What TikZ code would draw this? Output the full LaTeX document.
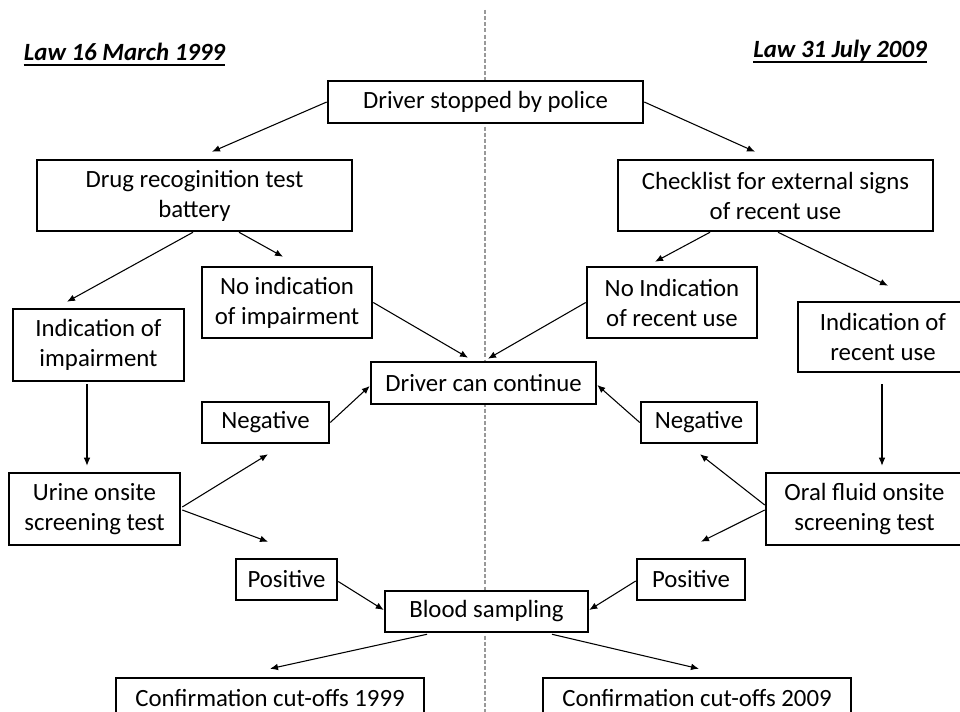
\documentclass[tikz,border=0pt]{standalone}
\usepackage{fontspec}
\setmainfont{Carlito}
\usetikzlibrary{arrows.meta,calc}
\newcommand{\pxu}{0.75pt}
\tikzset{
  box/.style={draw=black, line width=1.9pt, fill=white, inner sep=0pt, align=center,
    font=\fontsize{18.6pt}{22.5pt}\selectfont},
  arr/.style={draw=black, line width=0.8pt, -{Latex[length=6pt,width=5pt]}},
  lawtitle/.style={inner sep=0pt, anchor=base, font=\fontsize{18.6pt}{20pt}\selectfont\bfseries\itshape},
  uline/.style={draw=black, line width=1.2pt},
  divider/.style={draw=gray!80, line width=0.8pt, dash pattern=on 3pt off 1.6pt}
}
\begin{document}
\begin{tikzpicture}[x=0.75pt,y=-0.75pt]
\useasboundingbox (0,0) rectangle (960,712);
\clip (0,0) rectangle (960,712);
\fill[white] (0,0) rectangle (960,712);
% divider
\coordinate (dtop) at (485,10);
\coordinate (dbot) at (485,712);
\draw[divider] (dtop) -- (dbot);
% titles
\node[lawtitle] (t99) at (124.5,61) {Law 16 March 1999};
\node[lawtitle] (t09) at (840,58) {Law 31 July 2009};
\draw[uline] ($(t99.base west)+(0,4)$) -- ($(t99.base east)+(0,4)$);
\draw[uline] ($(t09.base west)+(0,4)$) -- ($(t09.base east)+(0,4)$);
% boxes
\node[box, minimum width=315*\pxu, minimum height=42*\pxu] (stop) at (485.5,102) {Driver stopped by police};
\node[box, minimum width=315*\pxu, minimum height=71*\pxu] (drug) at (194.5,195.5) {Drug recoginition test\\battery};
\node[box, minimum width=315*\pxu, minimum height=71*\pxu] (check) at (775.5,195.5) {Checklist for external signs\\of recent use};
\node[box, minimum width=170*\pxu, minimum height=71*\pxu] (noimp) at (287,302.5) {No indication\\of impairment};
\node[box, minimum width=171*\pxu, minimum height=72*\pxu] (imp) at (98.5,345) {Indication of\\impairment};
\node[box, minimum width=225*\pxu, minimum height=42*\pxu] (cont) at (483.5,383) {Driver can continue};
\node[box, minimum width=127*\pxu, minimum height=41*\pxu] (negL) at (265.5,422.5) {Negative};
\node[box, minimum width=170*\pxu, minimum height=71*\pxu] (norec) at (672,302.5) {No Indication\\of recent use};
\node[box, minimum width=170*\pxu, minimum height=70*\pxu] (rec) at (883,337) {Indication of\\recent use};
\node[box, minimum width=116*\pxu, minimum height=41*\pxu] (negR) at (699,422.5) {Negative};
\node[box, minimum width=171*\pxu, minimum height=72*\pxu] (urine) at (94.5,509) {Urine onsite\\screening test};
\node[box, minimum width=197*\pxu, minimum height=72*\pxu] (oral) at (864.5,509) {Oral fluid onsite\\screening test};
\node[box, minimum width=101*\pxu, minimum height=41*\pxu] (posL) at (286.5,579.5) {Positive};
\node[box, minimum width=203*\pxu, minimum height=41*\pxu] (blood) at (486.5,611.5) {Blood sampling};
\node[box, minimum width=108*\pxu, minimum height=41*\pxu] (posR) at (691,579.5) {Positive};
\node[box, minimum width=308*\pxu, minimum height=40*\pxu] (c99) at (270,698) {Confirmation cut-offs 1999};
\node[box, minimum width=308*\pxu, minimum height=40*\pxu] (c09) at (697,698) {Confirmation cut-offs 2009};
% arrows
\draw[arr] (stop.west) -- ($(drug.north)+(17.5,-7)$);
\draw[arr] (stop.east) -- ($(check.north)+(-20.5,-7)$);
\draw[arr] ($(drug.south)+(-1.5,0)$) -- ($(imp.north)+(-31.5,-6)$);
\draw[arr] ($(drug.south)+(44.5,0)$) -- ($(noimp.north)+(-4,-9)$);
\draw[arr] (noimp.east) -- ($(cont.north)+(-15.5,-3)$);
\draw[arr] ($(check.south)+(-65.5,0)$) -- ($(norec.north)+(-17,-4)$);
\draw[arr] ($(check.south)+(2.5,0)$) -- ($(rec.north)+(5,-15)$);
\draw[arr] (norec.west) -- ($(cont.north)+(4.5,-2)$);
\draw[arr] ($(imp.south)+(-11.5,2)$) -- ($(urine.north)+(-7.5,-6)$);
\draw[arr] ($(rec.south)+(-1,11)$) -- ($(oral.north)+(17.5,-6)$);
\draw[arr] ($(urine.east)+(1,-2)$) -- ($(negL.south)+(2.5,10)$);
\draw[arr] ($(urine.east)+(1,1)$) -- ($(posL.north)+(-18.5,-16)$);
\draw[arr] (negL.east) -- ($(cont.west)+(0,3)$);
\draw[arr] (negR.west) -- ($(cont.east)+(0,2)$);
\draw[arr] ($(oral.west)+(0,-4)$) -- ($(negR.south)+(1,10)$);
\draw[arr] ($(oral.west)+(0,1)$) -- ($(posR.north)+(10,-16)$);
\draw[arr] ($(posL.east)+(0,2)$) -- ($(blood.west)+(0,-1.5)$);
\draw[arr] ($(posR.west)+(0,1.5)$) -- ($(blood.east)+(0,-1.5)$);
\draw[arr] ($(blood.south)+(-59.5,1)$) -- ($(c99.north)+(0,-8)$);
\draw[arr] ($(blood.south)+(65.5,1)$) -- ($(c09.north)+(2,-8)$);
\end{tikzpicture}
\end{document}
